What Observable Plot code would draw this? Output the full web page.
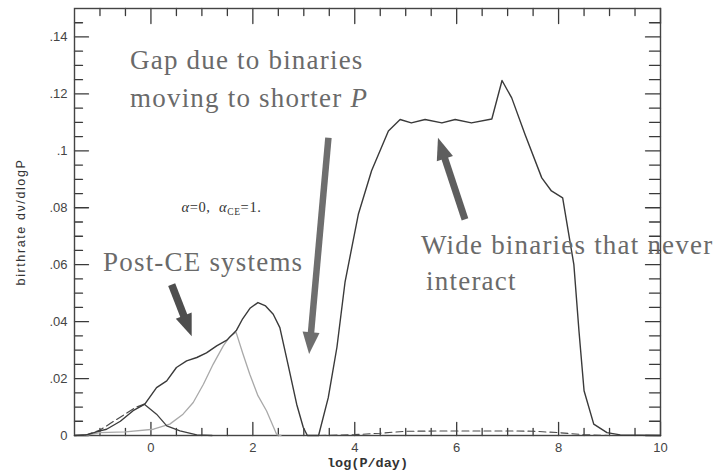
<!DOCTYPE html>
<html>
<head>
<meta charset="utf-8">
<script src="https://cdn.jsdelivr.net/npm/d3@7"></script>
<script src="https://cdn.jsdelivr.net/npm/@observablehq/plot@0.6"></script>
<style>
  html, body { margin: 0; padding: 0; background: #fff; }
</style>
</head>
<body>
<div id="chart"></div>
<script>
// ---- data ----
const totalCurve = [
  [-1.5,0],[-1.25,0.0003],[-1.0,0.0016],[-0.87,0.0022],[-0.6,0.005],[-0.35,0.0087],[-0.12,0.011],
  [0.11,0.0168],[0.31,0.0192],[0.5,0.0239],[0.7,0.0262],[0.9,0.0274],[1.09,0.029],[1.29,0.0315],
  [1.49,0.0335],[1.68,0.037],[1.8,0.041],[1.95,0.0448],[2.1,0.0467],[2.25,0.0455],[2.4,0.0426],
  [2.53,0.0379],[2.69,0.025],[2.86,0.011],[2.99,0.0028],[3.07,0],[3.29,0],[3.48,0.0133],[3.65,0.031],
  [3.81,0.054],[4.07,0.0777],[4.33,0.093],[4.66,0.107],[4.89,0.111],[5.11,0.1098],[5.38,0.111],
  [5.71,0.1098],[5.97,0.111],[6.29,0.1098],[6.69,0.1112],[6.89,0.1247],[7.08,0.1186],[7.34,0.1058],
  [7.67,0.0905],[7.86,0.0859],[8.08,0.0835],[8.3,0.06],[8.4,0.0367],[8.5,0.0157],[8.69,0.004],
  [8.95,0.001],[9.21,0.0002],[10,0]
];
const postCECurve = [
  [-1.3,0],[-1.0,0.001],[-0.5,0.0013],[0.05,0.0022],[0.37,0.004],[0.63,0.0075],[0.83,0.0116],
  [1.03,0.018],[1.22,0.025],[1.42,0.0315],[1.55,0.0348],[1.67,0.0363],[1.8,0.029],[1.94,0.0215],
  [2.1,0.014],[2.27,0.0086],[2.47,0.0003],[2.55,0]
];
const earlyPeakCurve = [
  [-0.13,0.011],[0.11,0.0075],[0.31,0.0034],[0.57,0.0016],[0.9,0.0002],[1.2,0]
];
const earlyDashedCurve = [
  [-1.3,0],[-1.0,0.0019],[-0.8,0.0042],[-0.5,0.0076],[-0.3,0.0099],[-0.13,0.011]
];
const wideDashedCurve = [
  [3.3,0],[4.0,0.0003],[4.5,0.0008],[5.0,0.0015],[6.0,0.0016],[7.0,0.0016],[7.5,0.0015],
  [8.0,0.001],[8.5,0.0003],[9.0,0]
];
const xMajor = [0, 2, 4, 6, 8, 10];
const xMinor = [-1, -0.5, 0.5, 1, 1.5, 2.5, 3, 3.5, 4.5, 5, 5.5, 6.5, 7, 7.5, 8.5, 9, 9.5];
const yMajor = [0, 0.02, 0.04, 0.06, 0.08, 0.1, 0.12, 0.14];
const yMinor = [0.005,0.01,0.015,0.025,0.03,0.035,0.045,0.05,0.055,0.065,0.07,0.075,0.085,0.09,0.095,0.105,0.11,0.115,0.125,0.13,0.135,0.145];
const annotations = [
  {text: "Gap due to binaries", x: -0.41, y: 0.1287},
  {text: "moving to shorter", x: -0.41, y: 0.1153},
  {text: "Post-CE systems", x: -0.94, y: 0.0578},
  {text: "Wide binaries that never", x: 5.30, y: 0.0637},
  {text: "interact", x: 5.40, y: 0.0511}
];
const paramLabel = [{text: "α=0,  αCE=1.", x: 0.60, y: 0.0786}];
const arrows = [
  {x1: 3.483, y1: 0.1046, x2: 3.104, y2: 0.0286, color: "#6e6e6e", w: 6.5},
  {x1: 0.407, y1: 0.053, x2: 0.80, y2: 0.0349, color: "#4e4e4e", w: 7.5},
  {x1: 6.163, y1: 0.0759, x2: 5.633, y2: 0.1046, color: "#5e5e5e", w: 7}
];
const xLabel = "log(P/day)";
const yLabel = "birthrate dν/dlogP";

// ---- layout ----
const W = 718, H = 474, mL = 74, mR = 58, mT = 8, mB = 39;
const xDom = [-1.5, 10], yDom = [0, 0.15];
const ux = (xDom[1] - xDom[0]) / (W - mL - mR); // data units per px
const uy = (yDom[1] - yDom[0]) / (H - mT - mB);
const sx = d3.scaleLinear(xDom, [mL, W - mR]);
const sy = d3.scaleLinear(yDom, [H - mB, mT]);

const headLen = 22, headHalf = 8.5;
const arrowGeom = arrows.map(a => {
  const px1 = sx(a.x1), py1 = sy(a.y1), px2 = sx(a.x2), py2 = sy(a.y2);
  const dx = px2 - px1, dy = py2 - py1, len = Math.hypot(dx, dy);
  const nx = dx / len, ny = dy / len;
  const bx = px2 - nx * headLen * 0.85, by = py2 - ny * headLen * 0.85;
  return {...a, bx: sx.invert(bx), by: sy.invert(by), angle: Math.atan2(nx, -ny) * 180 / Math.PI};
});
const headSymbol = {
  draw(ctx) {
    ctx.moveTo(0, 0);
    ctx.lineTo(-headHalf, headLen);
    ctx.lineTo(headHalf, headLen);
    ctx.closePath();
  }
};
// straight tick shape for the vector mark (points "up" before rotation)
const tickShape = {draw(ctx, l) { ctx.moveTo(0, 0); ctx.lineTo(0, -l); }};
const tk = {stroke: "#3a3a3a", strokeWidth: 1.3, anchor: "start", shape: tickShape};
const P = d => d[0], Q = d => d[1];

const chart = Plot.plot({
  width: W, height: H,
  marginLeft: mL, marginRight: mR, marginTop: mT, marginBottom: mB,
  style: {fontFamily: "Liberation Sans, Arial, sans-serif", fontSize: "13px", background: "#fff", color: "#444"},
  x: {domain: xDom, axis: null},
  y: {domain: yDom, axis: null},
  marks: [
    // inward ticks on all four sides
    Plot.vector(xMajor, {...tk, x: d => d, y: () => yDom[0], length: 13, rotate: 0}),
    Plot.vector(xMinor, {...tk, x: d => d, y: () => yDom[0], length: 7, rotate: 0}),
    Plot.vector(xMajor, {...tk, x: d => d, y: () => yDom[1], length: 15, rotate: 180}),
    Plot.vector(xMinor, {...tk, x: d => d, y: () => yDom[1], length: 7, rotate: 180}),
    Plot.vector(yMajor, {...tk, y: d => d, x: () => xDom[0], length: 14, rotate: 90}),
    Plot.vector(yMinor, {...tk, y: d => d, x: () => xDom[0], length: 8, rotate: 90}),
    Plot.vector(yMajor, {...tk, y: d => d, x: () => xDom[1], length: 15, rotate: -90}),
    Plot.vector(yMinor, {...tk, y: d => d, x: () => xDom[1], length: 11, rotate: -90}),
    Plot.frame({stroke: "#444", strokeWidth: 1.4}),
    Plot.axisX({ticks: xMajor, tickSize: 0, tickPadding: 7, tickFormat: d => String(d), label: null, color: "#444"}),
    Plot.axisY({ticks: yMajor, tickSize: 0, tickPadding: 7,
      tickFormat: d => d === 0 ? "0" : d3.format(".2~f")(d).replace(/^0/, ""), label: null, color: "#444"}),
    // curves
    Plot.line(wideDashedCurve, {x: P, y: Q, stroke: "#4a4a4a", strokeWidth: 1.1, strokeDasharray: "7,4"}),
    Plot.line(postCECurve, {x: P, y: Q, stroke: "#a9a9a9", strokeWidth: 1.3}),
    Plot.line(earlyDashedCurve, {x: P, y: Q, stroke: "#4a4a4a", strokeWidth: 1.2, strokeDasharray: "8,4"}),
    Plot.line(earlyPeakCurve, {x: P, y: Q, stroke: "#3f3f3f", strokeWidth: 1.3}),
    Plot.line(totalCurve, {x: P, y: Q, stroke: "#3a3a3a", strokeWidth: 1.4}),
    // arrows
    Plot.link(arrowGeom, {x1: "x1", y1: "y1", x2: "bx", y2: "by", stroke: "color", strokeWidth: "w", strokeLinecap: "butt"}),
    Plot.dot(arrowGeom, {x: "x2", y: "y2", symbol: headSymbol, rotate: "angle", fill: "color", stroke: "none", r: 10}),
    // annotations
    Plot.text(annotations, {x: "x", y: "y", text: "text", textAnchor: "start", lineAnchor: "bottom",
      fontFamily: "Liberation Serif, Times New Roman, serif", fontSize: 27, fill: "#6a6a6a"}),
    Plot.text(paramLabel, {x: "x", y: "y", text: "text", textAnchor: "start", lineAnchor: "bottom",
      fontFamily: "Liberation Serif, Times New Roman, serif", fontSize: 14.5, fill: "#333"}),
    // axis titles
    Plot.text([xLabel], {x: (xDom[0] + xDom[1]) / 2, y: yDom[0] - 27 * uy, text: d => d, lineAnchor: "middle",
      fontFamily: "Liberation Mono, Courier New, monospace", fontSize: 13.5, fontWeight: "bold", fill: "#333"}),
    Plot.text([yLabel], {x: xDom[0] - 54 * ux, y: (yDom[0] + yDom[1]) / 2, text: d => d, rotate: -90, lineAnchor: "middle",
      fontFamily: "Liberation Sans, Arial, sans-serif", fontSize: 12.5, fill: "#333"})
  ]
});

document.getElementById("chart").appendChild(chart);

const svg = d3.select(chart.tagName.toLowerCase() === "svg" ? chart : chart.querySelector("svg"));
svg.selectAll("text").each(function() {
  const t = this.textContent;
  const sel = d3.select(this);
  if (annotations.some(a => a.text === t)) sel.attr("letter-spacing", "1.2");
  if (t === yLabel) sel.attr("letter-spacing", "1.6");
  if (t === "moving to shorter") {
    sel.text("moving to shorter ");
    sel.append("tspan").attr("font-style", "italic").text("P");
  }
  if (t === paramLabel[0].text) {
    sel.text(null).attr("letter-spacing", "0.6");
    sel.append("tspan").attr("font-style", "italic").text("α");
    sel.append("tspan").text("=0,  ");
    sel.append("tspan").attr("font-style", "italic").text("α");
    sel.append("tspan").attr("font-size", "9.5").attr("dy", "3").text("CE");
    sel.append("tspan").attr("dy", "-3").text("=1.");
  }
});
</script>
</body>
</html>
